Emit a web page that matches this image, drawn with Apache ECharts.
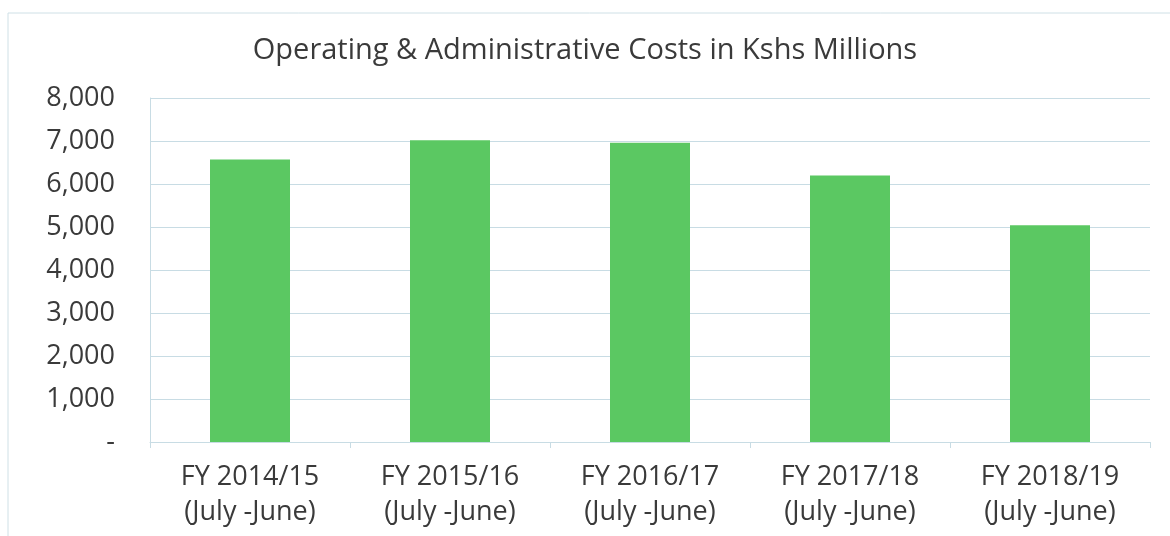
<!DOCTYPE html>
<html>
<head>
<meta charset="utf-8">
<script src="https://cdn.jsdelivr.net/npm/echarts@6/dist/echarts.min.js"></script>
<style>
  html, body { margin: 0; padding: 0; background: #fff; }
  #chart { width: 1170px; height: 536px; }
</style>
</head>
<body>
<div id="chart"></div>
<script>
var years = ['FY 2014/15', 'FY 2015/16', 'FY 2016/17', 'FY 2017/18', 'FY 2018/19'];
var period = '(July -June)';
var costs = [6570, 7015, 6960, 6200, 5040];

var myChart = echarts.init(document.getElementById('chart'));
var font = '"Open Sans", "Noto Sans", sans-serif';
var option = {
  backgroundColor: '#fff',
  animation: false,
  title: {
    text: 'Operating & Administrative Costs in Kshs Millions',
    left: 'center',
    top: 31,
    textStyle: { fontFamily: font, fontSize: 29, fontWeight: 'normal', color: '#3a3a3a' }
  },
  graphic: [{
    type: 'rect',
    shape: { x: 8, y: 13, width: 1180, height: 560 },
    style: { fill: 'none', stroke: '#cfe0e6', lineWidth: 1 }
  }],
  grid: { left: 150, right: 20, top: 98, bottom: 94 },
  xAxis: {
    type: 'category',
    data: years.map(y => y + '\n' + period),
    axisLine: { lineStyle: { color: '#c8dce4' } },
    axisTick: { show: true, alignWithLabel: false, length: 6, lineStyle: { color: '#c8dce4' } },
    axisLabel: { fontFamily: font, fontSize: 27, color: '#3a3a3a', lineHeight: 35, margin: 18 }
  },
  yAxis: {
    type: 'value',
    min: 0,
    max: 8000,
    interval: 1000,
    axisLine: { show: true, lineStyle: { color: '#c8dce4' } },
    axisTick: { show: false },
    splitLine: { lineStyle: { color: '#c8dce4' } },
    axisLabel: {
      fontFamily: font, fontSize: 27, color: '#3a3a3a', margin: 35,
      formatter: v => v === 0 ? '-' : v.toLocaleString('en-US')
    }
  },
  series: [{
    type: 'bar',
    data: costs,
    barWidth: '40%',
    itemStyle: { color: '#5bc862' }
  }]
};

myChart.setOption(option);
</script>
</body>
</html>
